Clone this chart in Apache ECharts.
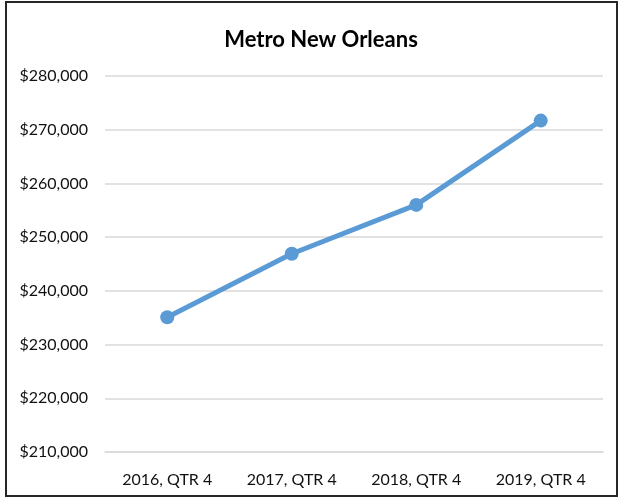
<!DOCTYPE html>
<html>
<head>
<meta charset="utf-8">
<script src="https://cdn.jsdelivr.net/npm/echarts@6/dist/echarts.min.js"></script>
<style>
html,body{margin:0;padding:0;background:#fff;}
#c{width:619px;height:499px;}
</style>
</head>
<body>
<div id="c"></div>
<script>
const categories = ['2016, QTR 4', '2017, QTR 4', '2018, QTR 4', '2019, QTR 4'];
const values = [235100, 246900, 256000, 271700];
const yTicks = { min: 210000, max: 280000, step: 10000 };

const chart = echarts.init(document.getElementById('c'), null, { renderer: 'canvas' });
chart.setOption({
  animation: false,
  backgroundColor: '#fff',
  title: {
    text: 'Metro New Orleans',
    left: 316, top: 24, textAlign: 'center',
    textStyle: { fontFamily: 'Lato', fontWeight: 'bold', fontSize: 22, color: '#000' }
  },
  graphic: [{
    type: 'rect', silent: true,
    shape: { x: 6, y: 2, width: 611, height: 494 },
    style: { fill: 'none', stroke: '#262626', lineWidth: 2 }
  }],
  grid: { left: 105, right: 16, top: 76, bottom: 47, containLabel: false },
  xAxis: {
    type: 'category', data: categories, boundaryGap: true,
    axisLine: { show: true, lineStyle: { color: '#d9d9d9', width: 1.5 } },
    axisTick: { show: false },
    axisLabel: { margin: 20, fontFamily: 'Lato', fontSize: 16, color: '#111' }
  },
  yAxis: {
    type: 'value', min: yTicks.min, max: yTicks.max, interval: yTicks.step,
    axisLine: { show: false }, axisTick: { show: false },
    splitLine: { lineStyle: { color: '#d9d9d9', width: 1.5 } },
    axisLabel: {
      margin: 17, fontFamily: 'Lato', fontSize: 16, color: '#111',
      formatter: v => '$' + v.toLocaleString('en-US')
    }
  },
  series: [{
    type: 'line', data: values,
    symbol: 'circle', symbolSize: 14,
    lineStyle: { color: '#5B9BD5', width: 5 },
    itemStyle: { color: '#5B9BD5' }
  }]
});
</script>
</body>
</html>
